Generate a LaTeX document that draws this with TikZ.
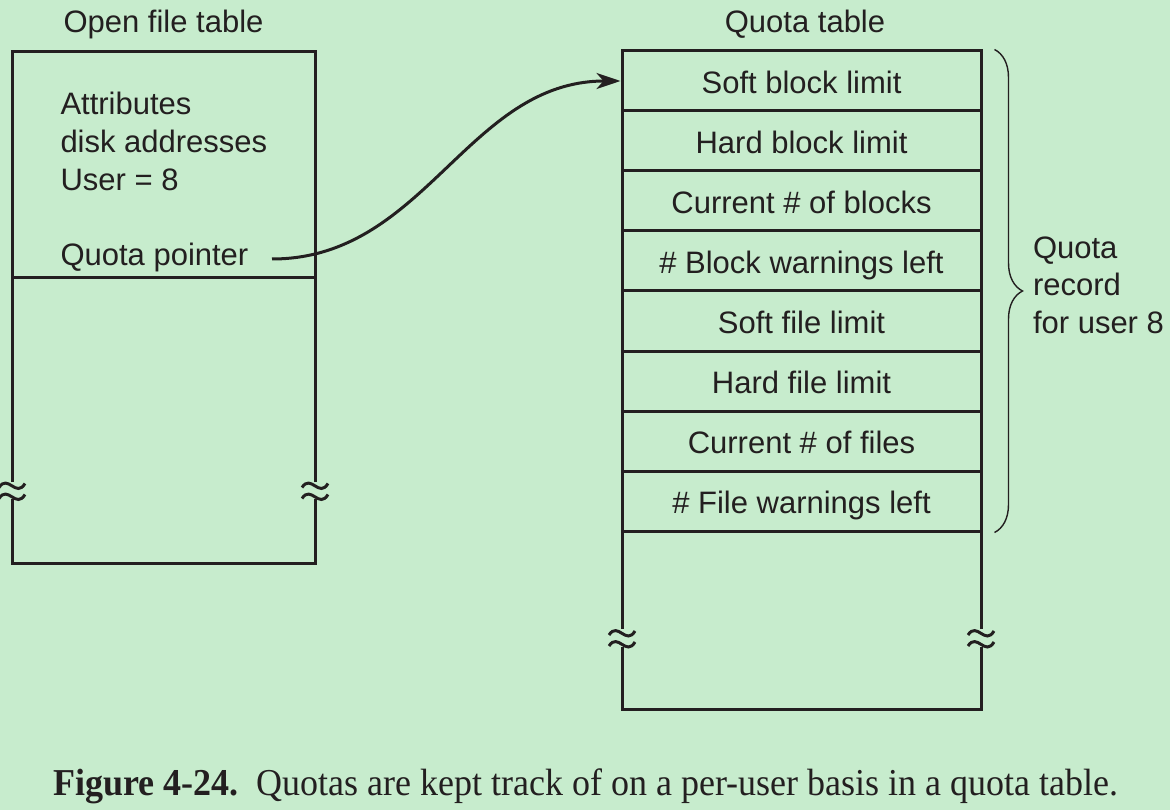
\documentclass[tikz,border=0pt]{standalone}
\usepackage{graphicx}
\usepackage{fontspec}
\setmainfont{Liberation Sans}
\newfontfamily\capfont{Liberation Serif}
\usetikzlibrary{decorations.pathreplacing,arrows.meta}
\definecolor{fond}{RGB}{199,236,205}
\definecolor{encre}{RGB}{35,31,32}
% two small waves cutting a vertical edge at (x,y)
\newcommand{\breakmark}[2]{%
\draw[line width=3pt] (#1-13,#2-3) .. controls (#1-4,#2-17) and (#1+4,#2+8) .. (#1+13,#2-7);
\draw[line width=3pt] (#1-13,#2+8) .. controls (#1-4,#2-6) and (#1+4,#2+19) .. (#1+13,#2+4);}

\begin{document}
\begin{tikzpicture}[x=1pt,y=-1pt,line width=3pt,color=encre,
  lbl/.style={font=\fontsize{31}{37.5}\selectfont,inner sep=0pt},
  champ/.style={lbl,draw,outer sep=0pt,minimum width=359pt,minimum height=60pt,text height=25pt,text depth=0pt}]
\useasboundingbox (0,0) rectangle (1170,810);
\fill[fond] (0,0) rectangle (1170,810);

\node[lbl,anchor=base] (ofttitle) at (163.5,33) {Open file table};
\node[lbl,anchor=base] (qttitle) at (805,33) {Quota table};

% open file table
\node[draw,outer sep=0pt,minimum width=303pt,minimum height=226pt,inner sep=0pt] (oft) at (163.5,165) {};
\node[lbl,anchor=base west] (attr) at (59,115) {Attributes};
\node[lbl,anchor=base west] (disk) at (59,153) {disk addresses};
\node[lbl,anchor=base west] (user) at (59,191) {User = 8};
\node[lbl,anchor=base west] (qp) at (59,266) {Quota pointer};
\draw (oft.south west) -- (12,482) (12,499) -- (12,563) -- (315,563) -- (315,499) (315,482) -- (oft.south east);
\breakmark{12}{490.5}
\breakmark{315}{490.5}

% quota table
\foreach \t [count=\i] in {Soft block limit,Hard block limit,Current \# of blocks,\# Block warnings left,Soft file limit,Hard file limit,Current \# of files,\# File warnings left}
  \node[champ] (r\i) at (801.5,{81+60*(\i-1)}) {\t};
\draw (r8.south west) -- (622,629) (622,647) -- (622,709) -- (981,709) -- (981,647) (981,629) -- (r8.south east);
\breakmark{622}{638}
\breakmark{981}{638}

\draw[line width=1.4pt,decorate,decoration={brace,amplitude=28pt}] ([xshift=13.5pt,yshift=1.5pt]r1.north east) -- ([xshift=13.5pt,yshift=-1.5pt]r8.south east) coordinate[midway] (bt);
\node[lbl,align=left,anchor=west] (qrec) at ([xshift=37pt,yshift=6pt]bt) {Quota\\record\\for user 8};

\coordinate (qpend) at (272,259);
\draw[-{Stealth[length=24pt,width=16pt,inset=7pt]}] (qpend) to[out=0,in=180] ([xshift=-1.5pt]r1.west);

\node[anchor=base west,inner sep=0pt] (cap) at (52,795) {\resizebox{1065pt}{\height}{\capfont\fontsize{38}{40}\selectfont\textbf{Figure 4-24.}\enspace Quotas are kept track of on a per-user basis in a quota table.}};
\end{tikzpicture}
\end{document}
